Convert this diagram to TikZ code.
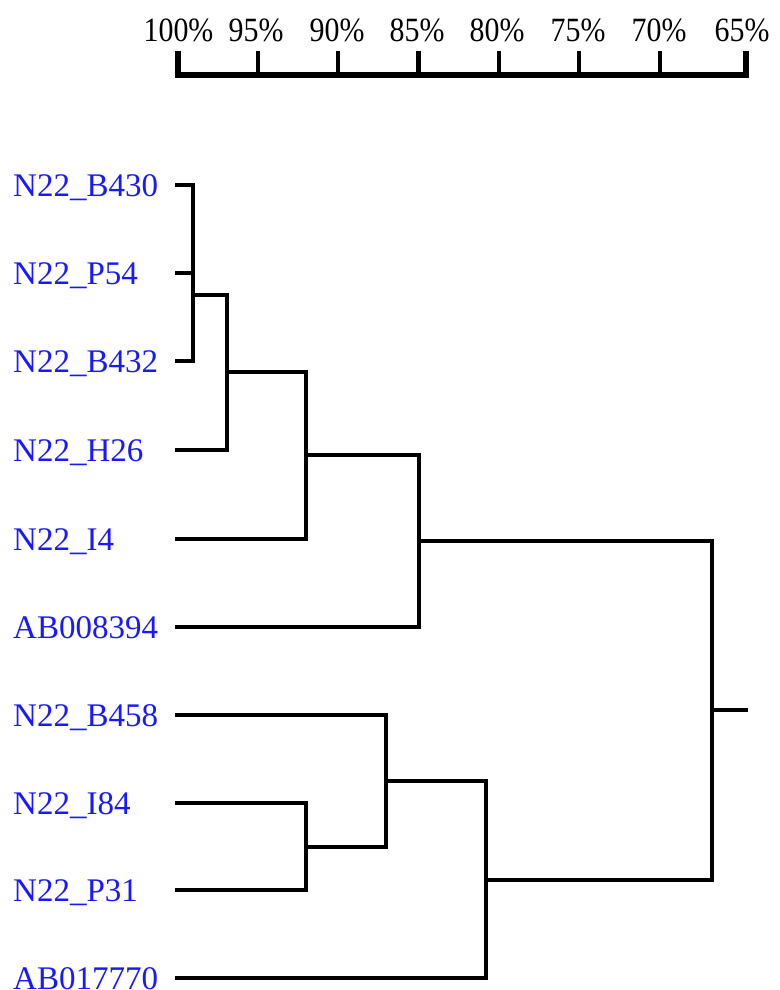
\documentclass[tikz,border=0pt]{standalone}
\usepackage{fontspec}
\setmainfont{Liberation Serif}
\definecolor{leafblue}{RGB}{25,25,255}
\tikzset{
  branch/.style={line width=4pt, line join=miter, black},
  axisline/.style={line width=6pt, line join=miter, black},
  tickline/.style={line width=4.5pt, black},
  leaflabel/.style={anchor=base west, inner sep=0pt, text=leafblue, font=\fontsize{33}{38}\selectfont},
  scalelabel/.style={anchor=base, inner sep=0pt, text=black, font=\fontsize{34}{40}\selectfont, xscale=0.88, transform shape}
}
\begin{document}
\begin{tikzpicture}[x=1pt,y=-1pt]
\useasboundingbox (0,0) rectangle (779,990);

% scale
\foreach \name/\tx/\lx/\txt in {t100/178/178.5/100\%, t95/258/256/95\%, t90/338/337/90\%, t85/418.5/417/85\%, t80/499/497/80\%, t75/579/578/75\%, t70/660/659/70\%, t65/746/742/65\%}{
  \coordinate (\name top) at (\tx,51);
  \coordinate (\name base) at (\tx,75);
  \node[scalelabel] (\name lab) at (\lx,42) {\txt};
}
\draw[axisline] (t100top) -- (t100base) -- (t65base) -- (t65top);
\foreach \name in {t95,t90,t85,t80,t75,t70}{
  \draw[tickline] (\name top) -- (\name base);
}

% leaves
\foreach \id/\y/\txt in {l1/185/N22\_B430, l2/273/N22\_P54, l3/361/N22\_B432, l4/450/N22\_H26, l5/539/N22\_I4, l6/627/AB008394, l7/715/N22\_B458, l8/803/N22\_I84, l9/890/N22\_P31, l10/978/AB017770}{
  \node[leaflabel] (\id lab) at (13,\y+11) {\txt};
  \coordinate (\id) at (175,\y);
}

% internal nodes
\coordinate (c1) at (193,229);
\coordinate (c2) at (193,295);
\coordinate (c3) at (227,372);
\coordinate (c4) at (306,455);
\coordinate (c5) at (419,541);
\coordinate (c6) at (306,847);
\coordinate (c7) at (386,781);
\coordinate (c8) at (486,880);
\coordinate (root) at (712,710);
\coordinate (rootend) at (748,710);

\draw[branch] (l1) -| (c1) |- (l2);
\draw[branch] (c1) -| (c2) |- (l3);
\draw[branch] (c2) -| (c3) |- (l4);
\draw[branch] (c3) -| (c4) |- (l5);
\draw[branch] (c4) -| (c5) |- (l6);
\draw[branch] (l8) -| (c6) |- (l9);
\draw[branch] (l7) -| (c7) |- (c6);
\draw[branch] (c7) -| (c8) |- (l10);
\draw[branch] (c5) -| (root) |- (c8);
\draw[branch] (root) -- (rootend);
\end{tikzpicture}
\end{document}
